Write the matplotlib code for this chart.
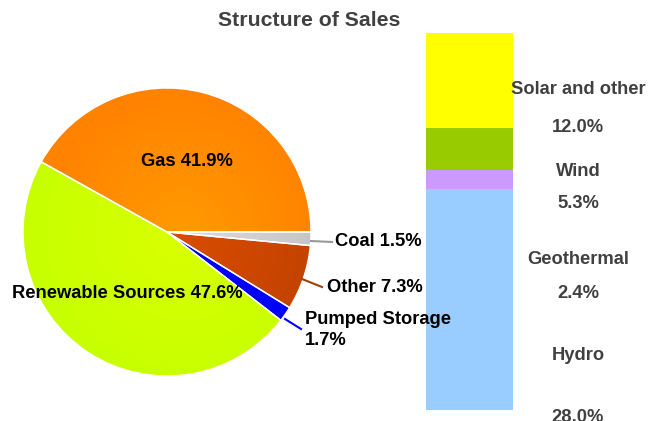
import numpy as np
import matplotlib.pyplot as plt
from matplotlib.colors import to_rgb

plt.rcParams['font.family'] = ['Liberation Sans', 'DejaVu Sans']

# Pie data (counter-clockwise from 3 o'clock)
pie_names = ['Gas', 'Renewable Sources', 'Pumped Storage', 'Other', 'Coal']
pie_values = [41.9, 47.6, 1.7, 7.3, 1.5]
pie_colors = ['#ff8200', '#c8ff00', '#0000ff', '#c24200', '#c4c4c4']
pie_centers = ['#ff9a00', '#daff00', '#0000ff', '#d84c00', '#dcdcdc']

# Renewable breakdown (bottom to top)
bar_names = ['Hydro', 'Geothermal', 'Wind', 'Solar and other']
bar_values = [28.0, 2.4, 5.3, 12.0]
bar_colors = ['#99ccff', '#cc99ff', '#99cc00', '#ffff00']

W, H = 648, 421
fig = plt.figure(figsize=(W / 100, H / 100), dpi=100)

# pie axes in pixel coordinates (y flipped by hand)
ax = fig.add_axes([0, 0, 1, 1])
cx, cy, r = 167, H - 232, 144
wedges, _ = ax.pie(pie_values, colors=pie_colors, startangle=0, counterclock=True,
                   center=(cx, cy), radius=r, frame=True,
                   wedgeprops=dict(edgecolor='white', linewidth=1.0))
ax.set_xlim(0, W)
ax.set_ylim(0, H)
ax.set_aspect('equal')
ax.axis('off')

# soft radial shading inside each wedge
gx, gy = np.meshgrid(np.linspace(cx - r, cx + r, 300), np.linspace(cy - r, cy + r, 300))
dist = np.clip(np.hypot(gx - cx - 15, gy - cy) / r, 0, 1)[..., None]
for w, c_out, c_in in zip(wedges, pie_colors, pie_centers):
    img = np.array(to_rgb(c_in)) * (1 - dist) + np.array(to_rgb(c_out)) * dist
    im = ax.imshow(img, extent=(cx - r, cx + r, cy - r, cy + r), origin='lower',
                   interpolation='bilinear', zorder=w.get_zorder())
    im.set_clip_path(w)
    w.set_facecolor('none')
    w.set_zorder(w.get_zorder() + 0.1)
ax.set_xlim(0, W)
ax.set_ylim(0, H)

def lbl(i):
    return f'{pie_names[i]} {pie_values[i]:.1f}%'

fs = 13.2
ax.text(187, H - 162, lbl(0), fontsize=fs, fontweight='bold', ha='center', va='center', zorder=5)
ax.text(127, H - 293, lbl(1), fontsize=fs, fontweight='bold', ha='center', va='center', zorder=5)
ax.text(335, H - 242, lbl(4), fontsize=fs, fontweight='bold', ha='left', va='center')
ax.text(327, H - 287, lbl(3), fontsize=fs, fontweight='bold', ha='left', va='center')
ax.text(305, H - 330, f'{pie_names[2]}\n{pie_values[2]:.1f}%', fontsize=fs,
        fontweight='bold', ha='left', va='center', linespacing=1.35, zorder=5)

# leader lines
ax.plot([311, 332], [H - 241, H - 242], color='#999999', lw=1.5)
ax.plot([302, 322], [H - 279, H - 287], color='#a0400a', lw=1.5)
ax.plot([285, 301], [H - 319, H - 329], color='#0000ff', lw=1.5)

fig.text(309 / W, 1 - 20 / H, 'Structure of Sales', fontsize=15.3, fontweight='bold',
         color='#404040', ha='center', va='center')

# stacked bar
bx = fig.add_axes([426 / W, 11 / H, 87 / W, 377 / H])
bottom = 0
for v, c in zip(bar_values, bar_colors):
    bx.bar(0, v, bottom=bottom, width=1, color=c, edgecolor='none')
    bottom += v
bx.set_xlim(-0.5, 0.5)
bx.set_ylim(0, bottom)
bx.axis('off')
bx.set_zorder(-1)

# bar labels (name, value) at fixed positions
name_y = [356, 259, 172, 89]
val_y = [417, 294, 203, 127]
for n, v, y1, y2 in zip(bar_names, bar_values, name_y, val_y):
    fig.text(578 / W, 1 - y1 / H, n, fontsize=fs, fontweight='bold', color='#404040',
             ha='center', va='center')
    fig.text(578 / W, 1 - y2 / H, f'{v:.1f}%', fontsize=fs, fontweight='bold',
             color='#404040', ha='center', va='center')

fig.savefig('out.png', dpi=100)
